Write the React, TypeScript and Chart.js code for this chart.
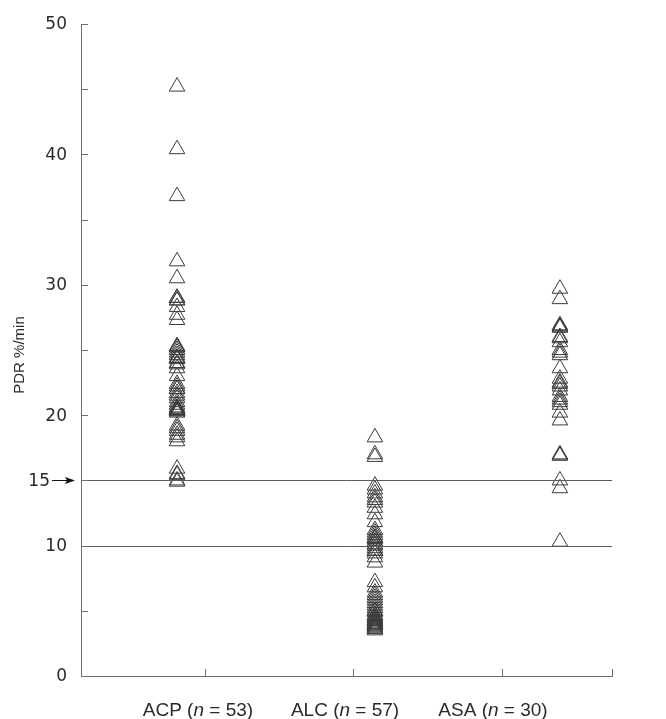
import React, { useEffect, useRef } from "react";
import { Chart, registerables } from "chart.js";

Chart.register(...registerables);

const groups = ["ACP", "ALC", "ASA"];
const groupCounts = [53, 57, 30];

const acpValues = [
  45.2, 40.4, 36.8, 31.8, 30.5, 29.0, 29.0, 28.8, 28.8, 28.3, 27.7, 27.3,
  25.3, 25.2, 25.2, 25.0, 24.8, 24.6, 24.4, 24.4, 24.3, 24.0, 23.9, 23.6,
  23.0, 22.4, 22.2, 22.0, 22.0, 21.7, 21.5, 21.3, 21.0, 20.8, 20.6, 20.5,
  20.5, 20.4, 20.4, 20.3, 20.3, 20.2, 19.2, 19.0, 18.8, 18.5, 18.3, 18.0,
  15.9, 15.5, 15.4, 15.0, 14.9,
];
const alcValues = [
  18.3, 17.0, 16.8, 14.6, 14.3, 14.0, 13.7, 13.5, 13.3, 12.9, 12.4, 11.8,
  11.2, 11.0, 10.8, 10.6, 10.6, 10.5, 10.3, 10.3, 10.1, 10.0, 9.8, 9.6, 9.6,
  9.4, 9.1, 8.7, 7.2, 6.8, 6.4, 6.2, 6.0, 5.8, 5.6, 5.4, 5.2, 5.0, 5.0, 4.9,
  4.7, 4.6, 4.5, 4.4, 4.4, 4.3, 4.2, 4.2, 4.1, 4.0, 4.0, 3.9, 3.8, 3.8, 3.7,
  3.6, 3.5,
];
const asaValues = [
  29.7, 28.9, 26.9, 26.8, 26.8, 26.7, 26.0, 25.9, 25.6, 25.0, 24.8, 24.6,
  23.6, 22.8, 22.5, 22.4, 22.2, 21.9, 21.4, 21.2, 21.0, 20.8, 20.2, 19.6,
  17.0, 16.9, 16.9, 15.0, 14.4, 10.3,
];
const groupValues = [acpValues, alcValues, asaValues];

const yLabelTicks = [0, 10, 20, 30, 40, 50];
const yAllTicks = [0, 5, 10, 15, 20, 25, 30, 35, 40, 45, 50];
const referenceLines = [10, 15];
const arrowTick = 15;
const yTitle = "PDR %/min";

const xMax = 3.588;
const pointPositions = [0.649, 1.986, 3.236];
const xTickPositions = [0.838, 1.838, 2.845, 3.588];
const labelPositions = [0.79, 1.784, 2.784];

const AXIS_COLOR = "#6e6e6e";
const LINE_COLOR = "#5a5a5a";
const TEXT_COLOR = "#2a2a2a";

const decorPlugin = {
  id: "decor",
  afterDraw(chart: any) {
    const { ctx, chartArea } = chart;
    const xs = chart.scales.x;
    const ys = chart.scales.y;
    ctx.save();
    ctx.strokeStyle = LINE_COLOR;
    ctx.lineWidth = 1;
    referenceLines.forEach((v) => {
      const py = Math.round(ys.getPixelForValue(v)) + 0.5;
      ctx.beginPath();
      ctx.moveTo(chartArea.left, py);
      ctx.lineTo(chartArea.right, py);
      ctx.stroke();
    });
    ctx.strokeStyle = AXIS_COLOR;
    yAllTicks.forEach((v) => {
      const py = Math.round(ys.getPixelForValue(v)) + 0.5;
      ctx.beginPath();
      ctx.moveTo(chartArea.left, py);
      ctx.lineTo(chartArea.left + 7, py);
      ctx.stroke();
    });
    xTickPositions.forEach((v) => {
      const px = Math.round(xs.getPixelForValue(v)) + 0.5;
      ctx.beginPath();
      ctx.moveTo(px, chartArea.bottom);
      ctx.lineTo(px, chartArea.bottom - 7);
      ctx.stroke();
    });
    ctx.fillStyle = TEXT_COLOR;
    ctx.font = '17px "DejaVu Sans"';
    ctx.textAlign = "right";
    ctx.textBaseline = "middle";
    yLabelTicks.forEach((v) => {
      ctx.fillText(String(v), chartArea.left - 14, ys.getPixelForValue(v) + 1);
    });
    const ay = Math.round(ys.getPixelForValue(arrowTick)) + 0.5;
    ctx.fillText(String(arrowTick), chartArea.left - 31, ay + 1);
    ctx.strokeStyle = "#111";
    ctx.fillStyle = "#111";
    ctx.beginPath();
    ctx.moveTo(chartArea.left - 29, ay);
    ctx.lineTo(chartArea.left - 14, ay);
    ctx.stroke();
    ctx.beginPath();
    ctx.moveTo(chartArea.left - 6, ay);
    ctx.lineTo(chartArea.left - 16, ay - 3.5);
    ctx.lineTo(chartArea.left - 14, ay);
    ctx.lineTo(chartArea.left - 16, ay + 3.5);
    ctx.closePath();
    ctx.fill();
    ctx.fillStyle = TEXT_COLOR;
    ctx.textAlign = "left";
    ctx.textBaseline = "alphabetic";
    const normal = '19px "Liberation Sans"';
    const italic = 'italic 19px "Liberation Sans"';
    groups.forEach((g, i) => {
      const parts = [
        { t: `${g} (`, f: normal },
        { t: "n", f: italic },
        { t: ` = ${groupCounts[i]})`, f: normal },
      ];
      let total = 0;
      parts.forEach((p) => {
        ctx.font = p.f;
        total += ctx.measureText(p.t).width;
      });
      let x = xs.getPixelForValue(labelPositions[i]) - total / 2;
      parts.forEach((p) => {
        ctx.font = p.f;
        ctx.fillText(p.t, x, chartArea.bottom + 40);
        x += ctx.measureText(p.t).width;
      });
    });
    ctx.save();
    ctx.translate(24, (chartArea.top + chartArea.bottom) / 2 + 5);
    ctx.rotate(-Math.PI / 2);
    ctx.font = '15px "Liberation Sans"';
    ctx.textAlign = "center";
    ctx.textBaseline = "alphabetic";
    ctx.fillText(yTitle, 0, 0);
    ctx.restore();
    ctx.restore();
  },
};

export default function App() {
  const ref = useRef<HTMLCanvasElement>(null);
  useEffect(() => {
    document.body.style.margin = "0";
    const canvas = ref.current!;
    const chart = new Chart(canvas, {
      type: "scatter",
      data: {
        datasets: groups.map((g, i) => ({
          label: g,
          data: groupValues[i].map((v) => ({ x: pointPositions[i], y: v })),
          pointStyle: "triangle",
          pointRadius: 9,
          pointHoverRadius: 9,
          borderWidth: 1,
          borderColor: "#3c3c3c",
          backgroundColor: "rgba(0,0,0,0)",
        })),
      },
      options: {
        responsive: false,
        animation: false,
        events: [],
        layout: { padding: { left: 81, top: 24, right: 54, bottom: 43 } },
        plugins: { legend: { display: false }, tooltip: { enabled: false } },
        scales: {
          x: {
            type: "linear",
            min: 0,
            max: xMax,
            ticks: { display: false },
            grid: { display: false, drawTicks: false },
            border: { display: true, color: AXIS_COLOR, width: 1 },
          },
          y: {
            type: "linear",
            min: 0,
            max: 50,
            ticks: { display: false, stepSize: 5 },
            grid: { display: false, drawTicks: false },
            border: { display: true, color: AXIS_COLOR, width: 1 },
          },
        },
      },
      plugins: [decorPlugin],
    });
    return () => chart.destroy();
  }, []);
  return (
    <canvas
      ref={ref}
      width={666}
      height={719}
      style={{ display: "block", width: 666, height: 719 }}
    />
  );
}
